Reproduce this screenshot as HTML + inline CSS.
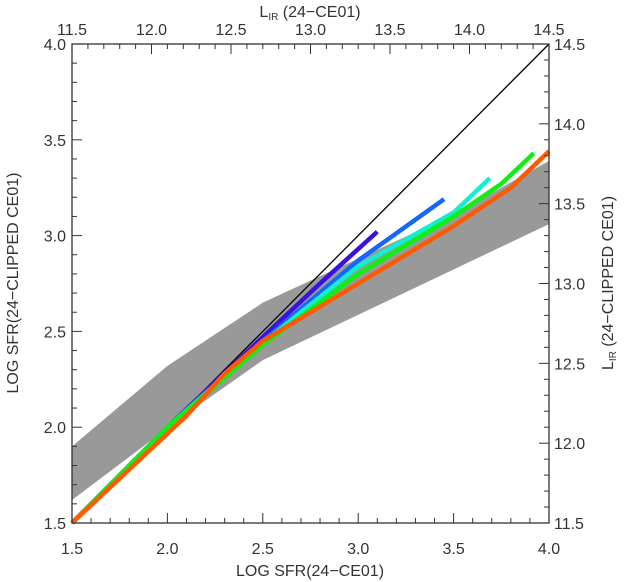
<!DOCTYPE html>
<html><head><meta charset="utf-8"><style>
body{margin:0;background:#fff}
svg{display:block;font-family:"Liberation Sans","DejaVu Sans",sans-serif;}
text{fill:#333;font-size:16px}
</style></head><body>
<svg id="chart" width="624" height="582" viewBox="0 0 624 582">
<g id="band"></g>
<g id="lines"></g>
<g id="axes"></g>
<text x="310" y="17" text-anchor="middle">L<tspan font-size="10" dy="3">IR</tspan><tspan dy="-3"> (24−CE01)</tspan></text>
<text x="310" y="576" text-anchor="middle">LOG SFR(24−CE01)</text>
<text transform="translate(18,283) rotate(-90)" text-anchor="middle">LOG SFR(24−CLIPPED CE01)</text>
<text transform="translate(613,283) rotate(-90)" text-anchor="middle">L<tspan font-size="10" dy="3">IR</tspan><tspan dy="-3"> (24−CLIPPED CE01)</tspan></text>
</svg>
<script>
const bandUpperX=[1.5,2.0,2.5,3.0,3.5,4.0];
const bandUpperY=[1.9,2.32,2.65,2.88,3.11,3.39];
const bandLowerX=[1.5,2.1,2.5,4.0];
const bandLowerY=[1.62,2.07,2.35,3.06];
const seriesNames=['purple','blue','cyan','green','orange'];
const seriesColors=['#3a12e0','#1466ff','#10f0d0','#10f010','#ff5a00'];
const seriesX=[[1.5,2.0,2.5,2.8,3.1],[1.5,2.0,2.5,3.0,3.45],[1.5,2.0,2.5,3.0,3.5,3.69],[1.5,2.0,2.5,3.0,3.5,3.75,3.92],[1.5,2.1,2.3,2.5,3.0,3.5,3.8,4.0]];
const seriesY=[[1.5,2.0,2.47,2.75,3.02],[1.5,2.0,2.45,2.87,3.19],[1.5,2.0,2.44,2.84,3.12,3.3],[1.5,2.0,2.43,2.8,3.1,3.27,3.43],[1.5,2.06,2.28,2.45,2.75,3.05,3.25,3.44]];
const xTicks=['1.5','2.0','2.5','3.0','3.5','4.0'];
const yTicks=['1.5','2.0','2.5','3.0','3.5','4.0'];
const lirTicks=['11.5','12.0','12.5','13.0','13.5','14.0','14.5'];
const X0=72,X1=549,Y0=523,Y1=44;
const sx=v=>X0+(v-1.5)/2.5*(X1-X0);
const sy=v=>Y0-(v-1.5)/2.5*(Y0-Y1);
const lx=v=>X0+(v-11.5)/3*(X1-X0);
const ly=v=>Y0-(v-11.5)/3*(Y0-Y1);
const NS='http://www.w3.org/2000/svg';
function mk(t,p,a){const e=document.createElementNS(NS,t);for(const k in a)e.setAttribute(k,a[k]);p.appendChild(e);return e;}
const band=document.getElementById('band'),lines=document.getElementById('lines'),axes=document.getElementById('axes');
let pts=bandUpperX.map((x,i)=>sx(x)+','+sy(bandUpperY[i]));
for(let i=bandLowerX.length-1;i>=0;i--)pts.push(sx(bandLowerX[i])+','+sy(bandLowerY[i]));
const poly=mk('polygon',band,{points:pts.join(' '),fill:'#999'});


const one=mk('line',lines,{x1:sx(1.5),y1:sy(1.5),x2:sx(4),y2:sy(4),stroke:'#000','stroke-width':1.3});


seriesX.forEach((xs,i)=>{
  const pl=mk('polyline',lines,{points:xs.map((x,j)=>sx(x)+','+sy(seriesY[i][j])).join(' '),fill:'none',stroke:seriesColors[i],'stroke-width':4.5,'stroke-linejoin':'round'});
  
  
});
const frame=mk('rect',axes,{x:X0,y:Y1,width:X1-X0,height:Y0-Y1,fill:'none',stroke:'#333','stroke-width':1.3});


function tick(x1,y1,x2,y2){mk('line',axes,{x1,y1,x2,y2,stroke:'#333','stroke-width':1});}
for(let k=0;k<=25;k++){const v=1.5+k*0.1,len=k%5==0?10:5;
  tick(sx(v),Y0,sx(v),Y0-len);tick(X0,sy(v),X0+len,sy(v));}
for(let k=0;k<=30;k++){const v=11.5+k*0.1,len=k%5==0?10:5;
  tick(lx(v),Y1,lx(v),Y1+len);tick(X1,ly(v),X1-len,ly(v));}
xTicks.forEach(t=>{const e=mk('text',axes,{x:sx(+t),y:554,'text-anchor':'middle'});e.textContent=t;
  
  });
yTicks.forEach(t=>{const e=mk('text',axes,{x:X0-6,y:sy(+t)+6,'text-anchor':'end'});e.textContent=t;
  
  });
lirTicks.forEach(t=>{const e=mk('text',axes,{x:lx(+t),y:35,'text-anchor':'middle'});e.textContent=t;
  
  
  const r=mk('text',axes,{x:X1+5,y:ly(+t)+6,'text-anchor':'start'});r.textContent=t;
  
  });
</script>
</body></html>
